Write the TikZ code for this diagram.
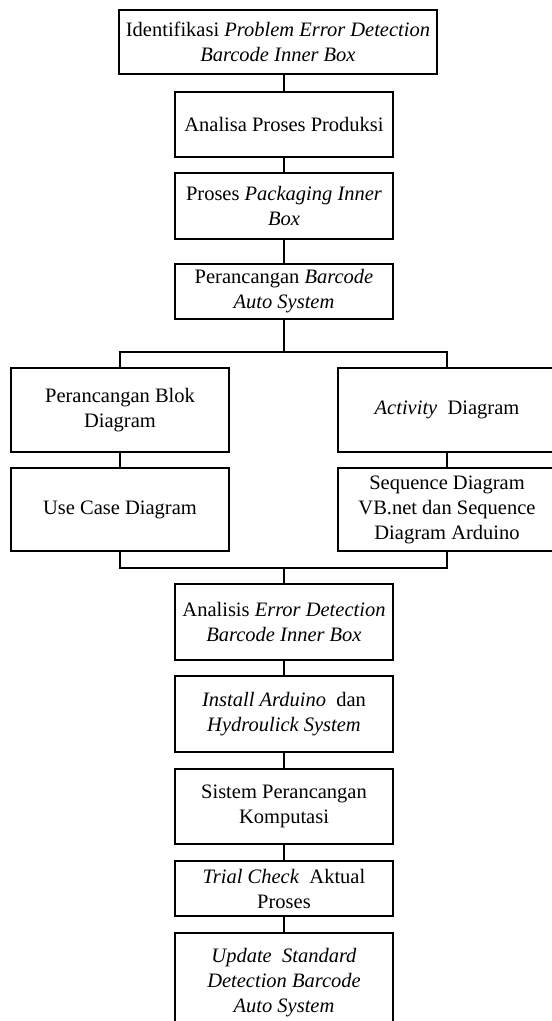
\documentclass[tikz,border=0pt]{standalone}
\usepackage{fontspec}
\setmainfont{Liberation Serif}
\usepackage{tikz}

\begin{document}
\begin{tikzpicture}[x=1pt, y=-1pt,
  box/.style={draw=black, line width=1.8pt, align=center, inner sep=2pt,
    font=\fontsize{20.5}{25}\selectfont, minimum width=218pt},
  link/.style={draw=black, line width=1.8pt}]
\useasboundingbox (0,0) rectangle (552,1021);

\node[box, minimum width=318pt, minimum height=64pt] (ident) at (278,42) {Identifikasi \textit{Problem Error Detection}\\\textit{Barcode Inner Box}};
\node[box, minimum height=65pt] (analisa) at (284,124.5) {Analisa Proses Produksi};
\node[box, minimum height=66pt] (packing) at (284,206) {Proses \textit{Packaging Inner}\\\textit{Box}};
\node[box, minimum height=55pt] (rancang) at (284,291.5) {Perancangan \textit{Barcode}\\\textit{Auto System}};

\node[box, minimum height=84pt] (blok) at (120,410) {Perancangan Blok\\Diagram};
\node[box, minimum height=83pt] (usecase) at (120,509.5) {Use Case Diagram};
\node[box, minimum height=84pt] (activity) at (447,410) {\textit{Activity}\ \ Diagram};
\node[box, minimum height=83pt] (sequence) at (447,509.5) {Sequence Diagram\\VB.net dan Sequence\\Diagram Arduino};

\node[box, minimum height=76pt] (analisis) at (284,622) {Analisis \textit{Error Detection}\\\textit{Barcode Inner Box}};
\node[box, minimum height=76pt] (install) at (284,714) {\textit{Install Arduino}\ \ dan\\\textit{Hydroulick System}};
\node[box, minimum height=75pt] (sistem) at (284,806.5) {Sistem Perancangan\\Komputasi};
\node[box, minimum height=55pt] (trial) at (284,888.5) {\textit{Trial Check}\ \ Aktual\\Proses};
\node[box, minimum height=100pt] (update) at (284,983) {\textit{Update\ \ Standard}\\\textit{Detection Barcode}\\\textit{Auto System}};

\coordinate (split) at (284,352);
\coordinate (join) at (284,568);

\draw[link] (analisa.north) -- (analisa.north |- ident.south);
\draw[link] (analisa) -- (packing);
\draw[link] (packing) -- (rancang);
\draw[link] (rancang) -- (split);
\draw[link] (blok.north) |- (split) -| (activity.north);
\draw[link] (blok) -- (usecase);
\draw[link] (activity) -- (sequence);
\draw[link] (usecase.south) |- (join) -| (sequence.south);
\draw[link] (join) -- (analisis);
\draw[link] (analisis) -- (install);
\draw[link] (install) -- (sistem);
\draw[link] (sistem) -- (trial);
\draw[link] (trial) -- (update);
\end{tikzpicture}
\end{document}
